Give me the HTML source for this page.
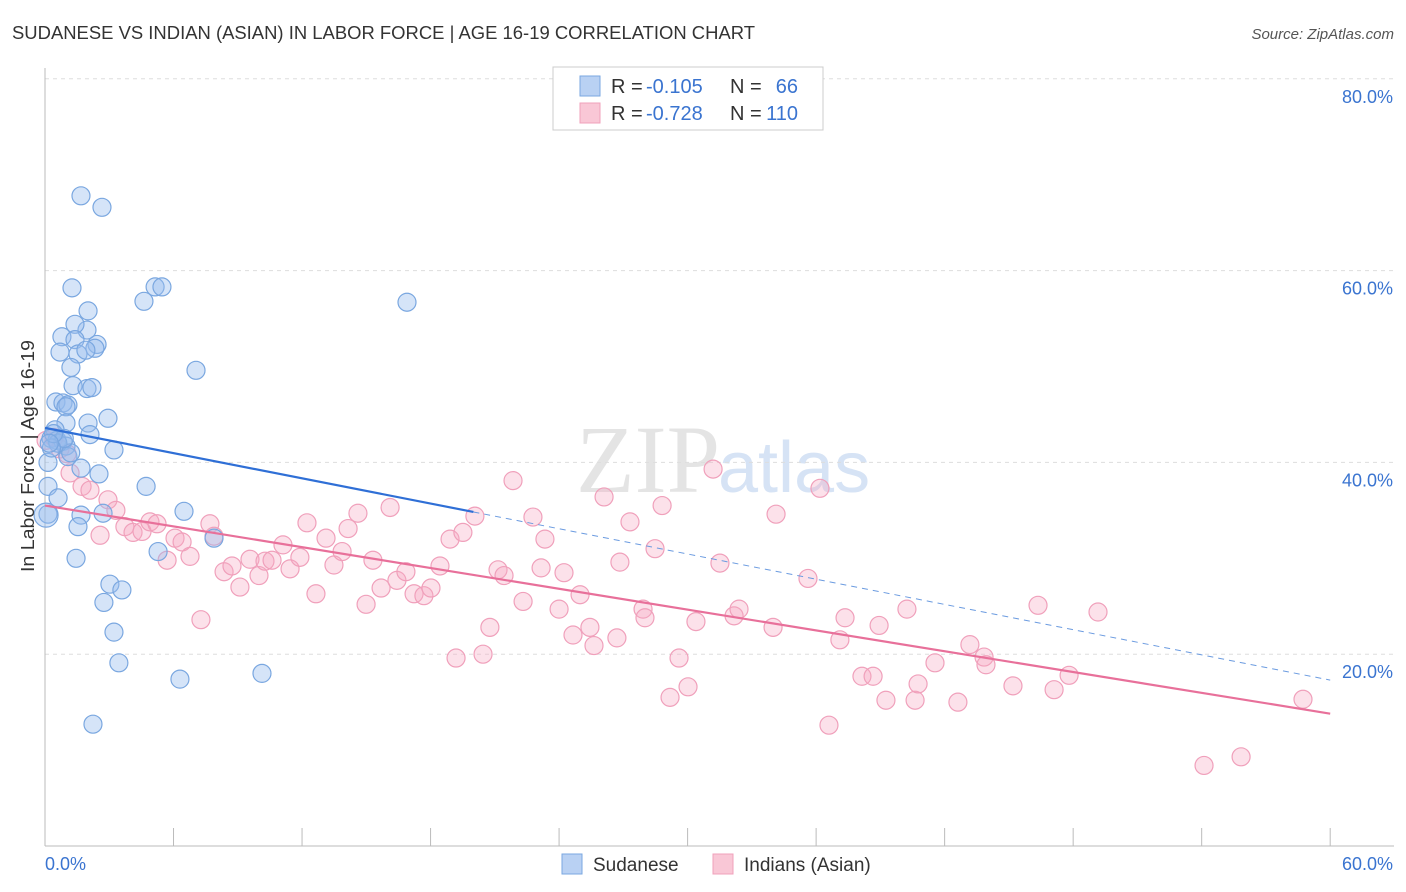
<!DOCTYPE html>
<html><head><meta charset="utf-8">
<style>
body{margin:0;background:#fff;font-family:"Liberation Sans",sans-serif;}
svg{display:block}
</style></head>
<body>
<svg id="chart" width="1406" height="892">
<text x="12" y="39" font-size="18" fill="#333" textLength="743" lengthAdjust="spacingAndGlyphs">SUDANESE VS INDIAN (ASIAN) IN LABOR FORCE | AGE 16-19 CORRELATION CHART</text>
<text x="1394" y="39" font-size="15" fill="#555" font-style="italic" text-anchor="end">Source: ZipAtlas.com</text>
<text x="720" y="492" font-size="96" fill="#e4e4e4" text-anchor="end" font-family="Liberation Serif,serif">ZIP</text>
<text x="718" y="492" font-size="72" fill="#d6e3f5">atlas</text>
<g id="grid"></g>
<g id="axes"></g>
<g id="pts"></g>
<g id="lines"></g>
<text x="34" y="456" font-size="18" fill="#333" text-anchor="middle" textLength="232" lengthAdjust="spacingAndGlyphs" transform="rotate(-90 34 456)">In Labor Force | Age 16-19</text>
<g>
<rect x="553" y="67" width="270" height="63" fill="#fff" stroke="#ccc"/>
<rect x="580" y="76" width="20" height="20" fill="#b9d1f3" stroke="#7aa7e0"/>
<rect x="580" y="103" width="20" height="20" fill="#f9c7d6" stroke="#f0a0bb"/>
<text x="611" y="93" font-size="20" fill="#333">R =</text>
<text x="646" y="93" font-size="20" fill="#3a74d0">-0.105</text>
<text x="730" y="93" font-size="20" fill="#333">N =</text>
<text x="798" y="93" font-size="20" fill="#3a74d0" text-anchor="end">66</text>
<text x="611" y="120" font-size="20" fill="#333">R =</text>
<text x="646" y="120" font-size="20" fill="#3a74d0">-0.728</text>
<text x="730" y="120" font-size="20" fill="#333">N =</text>
<text x="798" y="120" font-size="20" fill="#3a74d0" text-anchor="end">110</text>
</g>
<g>
<rect x="562" y="854" width="20" height="20" fill="#b9d1f3" stroke="#7aa7e0"/>
<text x="593" y="871" font-size="19" fill="#333">Sudanese</text>
<rect x="713" y="854" width="20" height="20" fill="#f9c7d6" stroke="#f0a0bb"/>
<text x="744" y="871" font-size="19" fill="#333">Indians (Asian)</text>
</g>
</svg>
<script>
const yTicks=[20,40,60,80];
const yTickLabels=["20.0%","40.0%","60.0%","80.0%"];
const xTickLabels=["0.0%","60.0%"];
const blueX=[1.68,2.66,1.26,2.01,4.62,5.14,5.46,16.9,0.79,1.96,1.40,1.40,0.70,1.54,2.43,2.33,1.91,1.21,7.05,1.31,1.96,2.19,0.51,0.84,1.07,0.98,2.94,0.98,2.01,2.10,0.47,0.28,0.56,0.84,0.98,3.22,1.07,0.14,1.68,2.52,0.14,0.61,4.72,6.49,0.14,1.68,2.71,1.54,7.89,5.28,1.45,3.03,3.59,2.75,3.22,3.45,6.30,10.13,2.24,0.05,0.6,1.2,0.9,0.3,0.4,0.2];
const blueY=[67.8,66.6,58.2,55.8,56.8,58.3,58.3,56.7,53.1,53.8,54.4,52.8,51.5,51.3,52.3,51.9,51.7,49.9,49.6,48.0,47.7,47.8,46.3,46.2,46.0,45.8,44.6,44.1,44.1,42.9,43.4,42.5,42.3,42.2,41.7,41.3,40.6,40.0,39.4,38.8,37.5,36.3,37.5,34.9,34.6,34.5,34.7,33.3,32.1,30.7,30.0,27.3,26.7,25.4,22.3,19.1,17.4,18.0,12.7,34.5,42.0,41.0,42.5,41.5,43.0,42.0];
const pinkX=[0.05,0.42,0.70,1.03,1.17,1.73,2.10,2.57,2.94,3.31,3.73,4.11,4.53,4.90,5.23,5.70,6.07,6.40,6.77,7.28,7.70,7.89,8.36,8.73,9.10,9.57,9.99,10.27,10.60,11.11,11.44,11.90,12.23,12.65,13.12,13.49,13.87,14.15,14.61,14.99,15.31,15.69,16.11,16.43,16.85,17.23,17.69,18.02,18.44,18.91,19.19,19.51,20.07,20.45,20.77,21.15,21.43,21.85,22.32,22.78,23.16,23.34,24.00,24.23,24.65,24.98,25.44,25.63,26.10,26.70,26.84,27.31,27.92,28.01,28.48,28.81,29.18,29.60,30.02,30.39,31.19,31.51,32.17,32.40,33.99,34.13,35.62,36.18,36.60,37.11,37.35,38.14,38.66,38.94,39.26,40.24,40.62,40.76,41.55,42.62,43.18,43.84,43.93,45.19,46.36,47.11,47.81,49.16,54.11,55.84,58.73];
const pinkY=[42.3,42.6,41.4,40.9,38.9,37.5,37.1,32.4,36.1,35.0,33.3,32.7,32.8,33.8,33.6,29.8,32.1,31.7,30.2,23.6,33.6,32.3,28.6,29.2,27.0,29.9,28.2,29.7,29.8,31.4,28.9,30.1,33.7,26.3,32.1,29.3,30.7,33.1,34.7,25.2,29.8,26.9,35.3,27.7,28.6,26.3,26.1,26.9,29.2,32.0,19.6,32.7,34.4,20.0,22.8,28.8,28.2,38.1,25.5,34.3,29.0,32.0,24.7,28.5,22.0,26.2,22.8,20.9,36.4,21.7,29.6,33.8,24.7,23.8,31.0,35.5,15.5,19.6,16.6,23.4,39.3,29.5,24.0,24.7,22.8,34.6,27.9,37.3,12.6,21.5,23.8,17.7,17.7,23.0,15.2,24.7,15.2,16.9,19.1,15.0,21.0,19.7,18.9,16.7,25.1,16.3,17.8,24.4,8.4,9.3,15.3];
const blueTrend=[43.6,17.3];
const pinkTrend=[35.5,13.8];
const blueSolidEnd=20;

const X=v=>45+v*21.42, Y=v=>846-v*9.59;
const NS="http://www.w3.org/2000/svg";
function mk(tag,attrs,parent){const e=document.createElementNS(NS,tag);for(const k in attrs)e.setAttribute(k,attrs[k]);document.getElementById(parent).appendChild(e);return e;}
yTicks.forEach((t,i)=>{
 const l=mk('line',{x1:45,x2:1394,y1:Y(t),y2:Y(t),stroke:'#ddd','stroke-dasharray':'4,4'},'grid');
 
 
 const tx=mk('text',{x:1393,y:Y(t)+24,'font-size':18,fill:'#3a74d0','text-anchor':'end'},'grid');
 tx.textContent=yTickLabels[i];
 
 
});
let a=mk('line',{x1:45,x2:45,y1:68,y2:846,stroke:'#bbb'},'axes');


a=mk('line',{x1:45,x2:1394,y1:846,y2:846,stroke:'#bbb'},'axes');


for(let i=0;i<=10;i++){const t=mk('line',{x1:X(i*6),x2:X(i*6),y1:828,y2:846,stroke:'#bbb'},'axes');
 
 }
let xl=mk('text',{x:45,y:870,'font-size':18,fill:'#3a74d0'},'axes');xl.textContent=xTickLabels[0];


xl=mk('text',{x:1393,y:870,'font-size':18,fill:'#3a74d0','text-anchor':'end'},'axes');xl.textContent=xTickLabels[1];


pinkX.forEach((v,i)=>{const c=mk('circle',{cx:X(v),cy:Y(pinkY[i]),r:9,fill:'rgba(246,170,195,0.35)',stroke:'#f0a0bb','stroke-width':1.2},'pts');
 
 });
blueX.forEach((v,i)=>{const c=mk('circle',{cx:X(v),cy:Y(blueY[i]),r:(i===59?12:9),fill:'rgba(150,188,238,0.4)',stroke:'#7aa7e0','stroke-width':1.2},'pts');
 
 });
const by=x=>blueTrend[0]+(blueTrend[1]-blueTrend[0])*x/60;
let ln=mk('line',{x1:X(0),y1:Y(by(0)),x2:X(blueSolidEnd),y2:Y(by(blueSolidEnd)),stroke:'#2f6fd6','stroke-width':2.2},'lines');


ln=mk('line',{x1:X(blueSolidEnd),y1:Y(by(blueSolidEnd)),x2:X(60),y2:Y(by(60)),stroke:'#6b9be0','stroke-width':1,'stroke-dasharray':'6,5'},'lines');


ln=mk('line',{x1:X(0),y1:Y(pinkTrend[0]),x2:X(60),y2:Y(pinkTrend[1]),stroke:'#e8709a','stroke-width':2.2},'lines');


</script>
</body></html>
